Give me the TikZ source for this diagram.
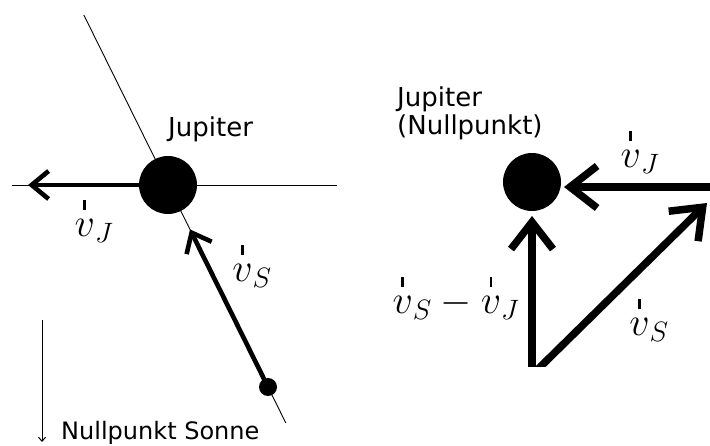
\RequirePackage{fix-cm}
\documentclass[tikz,border=0pt]{standalone}
\usepackage{amsmath}
\usepackage{fontspec}
\newfontfamily\labfont{DejaVu Sans}
\usetikzlibrary{arrows.meta,calc}
\newcommand{\tickv}{\overset{\rule[4pt]{2.8pt}{10pt}}{v}}
\tikzset{
  planet/.style={circle, fill=black, inner sep=0pt, minimum size=#1},
  thinline/.style={line width=0.9pt},
  midvec/.style={line width=4.6pt, -{Straight Barb[length=17pt,width=28pt]}},
  bigvec/.style={line width=7.5pt, -{Straight Barb[length=27pt,width=42pt]}},
  smallarr/.style={line width=1pt, -{Straight Barb[length=4pt,width=7pt]}},
  txt/.style={font=\labfont\fontsize{26}{30}\selectfont, inner sep=0pt},
  mth/.style={font=\fontsize{40}{44}\selectfont, inner sep=0pt}
}
\begin{document}
\begin{tikzpicture}[x=1pt,y=-1pt]
\useasboundingbox (0,0) rectangle (710,446);
% ---------- left diagram ----------
\node[planet=58pt] (J1) at (168,185) {};
\node[planet=18pt] (S1) at (268,387) {};
\coordinate (ltop) at ($(J1)!-0.8416!(S1)$);
\coordinate (lbot) at ($(J1)!1.178!(S1)$);
\coordinate (hl) at (12,185);
\coordinate (hr) at (337,185);
\coordinate (vjtip) at (28,185);
\draw[thinline] (ltop) -- (lbot);
\draw[thinline] (hl) -- (hr);
\draw[midvec] (J1.west) -- (vjtip);
\draw[midvec] (S1.center) -- ($(J1)!0.22!(S1)$);
\node[txt, anchor=base west] (jup1) at (168,137) {Jupiter};
\node[mth] (vj1) at (94,220) {$\tickv_J$};
\node[mth] (vs1) at (252,265) {$\tickv_S$};
\coordinate (dtop) at (42,320);
\coordinate (dbot) at (42,442);
\draw[smallarr] (dtop) -- (dbot);
\node[txt, font=\labfont\fontsize{24}{28}\selectfont, anchor=base west] (ns) at (61,439) {Nullpunkt Sonne};
% ---------- right diagram ----------
\node[planet=58pt] (J2) at (532,182) {};
\node[txt, anchor=base west] (jup2) at (397,107) {Jupiter};
\node[txt, anchor=base west] (nul2) at (397,135) {(Nullpunkt)};
\coordinate (R1) at (715,187);
\coordinate (B1) at (532,367);
\draw[bigvec] (R1) -- (564,187);
\draw[bigvec, line cap=butt] (B1) -- (532,216);
\begin{scope}
\clip (0,0) rectangle (710,367);
\coordinate (B2) at (532,375);
\coordinate (T2) at (707,203);
\draw[bigvec] (B2) -- (T2);
\end{scope}
\node[mth] (vj2) at (640,151) {$\tickv_J$};
\node[mth] (diff) at (456,297) {$\tickv_S - \tickv_J$};
\node[mth] (vs2) at (649,319) {$\tickv_S$};
\end{tikzpicture}
\end{document}
